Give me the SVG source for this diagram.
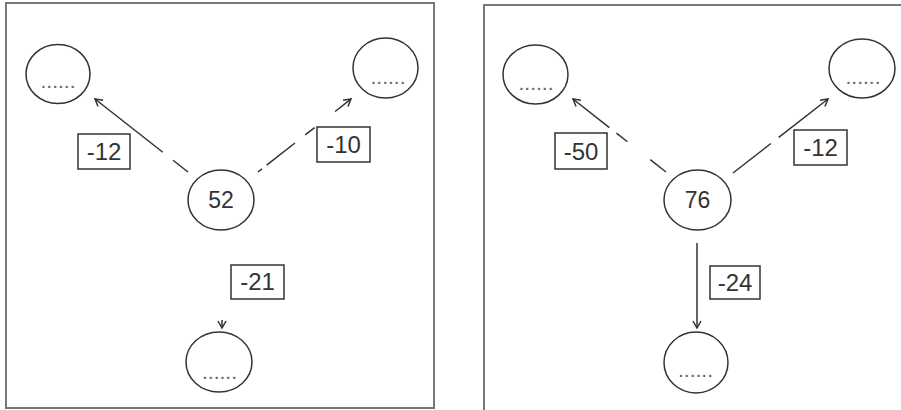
<svg xmlns="http://www.w3.org/2000/svg" width="901" height="410" viewBox="0 0 901 410">
<defs>
<marker id="arr" markerUnits="userSpaceOnUse" markerWidth="12" markerHeight="12" viewBox="-9 -6 12 12" refX="0" refY="0" orient="auto">
<path d="M-7,-4 L0,0 L-7,4" fill="none" stroke="#333" stroke-width="1.5"/>
</marker>
</defs>
<style>
.panel{fill:none;stroke:#777;stroke-width:2}
.node{fill:#fff;stroke:#333;stroke-width:1.5}
.lbl{fill:#fff;stroke:#333;stroke-width:1.5}
.t{font-family:"Liberation Sans",Arial,sans-serif;fill:#333;text-anchor:middle}
.big{font-size:24px}
.mid{font-size:23px}
.dots{font-size:21px;fill:#666}
.con{fill:none;stroke:#333;stroke-width:1.5;marker-end:url(#arr)}
</style>
<rect width="901" height="410" fill="#fff"/>
<rect class="panel" x="6" y="3" width="428" height="405"/>
<path class="panel" d="M484,410 V5 H901"/>

<g id="connectors">
<line class="con" x1="188" y1="172" x2="95" y2="99" stroke-dasharray="19 13 200"/>
<line class="con" x1="258" y1="172" x2="351" y2="99" stroke-dasharray="5 6 36 13 12 26 20"/>
<line class="con" x1="222" y1="320" x2="222" y2="328" stroke="none"/>
<line class="con" x1="666" y1="172" x2="573" y2="99" stroke-dasharray="20 29 14 9 200"/>
<line class="con" x1="733" y1="173" x2="828" y2="99" stroke-dasharray="48 10 200"/>
<line class="con" x1="697" y1="243" x2="697" y2="328"/>
</g>

<g id="L-topleft"><ellipse class="node" cx="58" cy="74" rx="32" ry="29.5"/><text class="t dots" x="58" y="88">......</text></g>
<g id="L-topright"><ellipse class="node" cx="385.5" cy="68" rx="32.5" ry="30"/><text class="t dots" x="388" y="84">......</text></g>
<g id="L-center"><ellipse class="node" cx="221" cy="200" rx="33" ry="30"/><text class="t mid" x="221" y="208">52</text></g>
<g id="L-bottom"><ellipse class="node" cx="219" cy="362" rx="33" ry="30"/><text class="t dots" x="219.5" y="379">......</text></g>

<g id="R-topleft"><ellipse class="node" cx="535.5" cy="74.5" rx="32.5" ry="29.5"/><text class="t dots" x="536" y="90">......</text></g>
<g id="R-topright"><ellipse class="node" cx="862" cy="68.5" rx="33" ry="29.5"/><text class="t dots" x="863" y="84">......</text></g>
<g id="R-center"><ellipse class="node" cx="697.5" cy="200" rx="33.5" ry="30"/><text class="t mid" x="697.5" y="208">76</text></g>
<g id="R-bottom"><ellipse class="node" cx="696" cy="362.5" rx="32" ry="30.5"/><text class="t dots" x="695.5" y="377">......</text></g>

<g id="lbl-L1"><rect class="lbl" x="78" y="134" width="52" height="35"/><text class="t big" x="104" y="160">-12</text></g>
<g id="lbl-L2"><rect class="lbl" x="317" y="127" width="53" height="35"/><text class="t big" x="343.5" y="153">-10</text></g>
<g id="lbl-L3"><rect class="lbl" x="231" y="265" width="53" height="34"/><text class="t big" x="257.5" y="290">-21</text></g>
<g id="lbl-R1"><rect class="lbl" x="555" y="133" width="52" height="36"/><text class="t big" x="581" y="160">-50</text></g>
<g id="lbl-R2"><rect class="lbl" x="794" y="130" width="53" height="35"/><text class="t big" x="820.5" y="156">-12</text></g>
<g id="lbl-R3"><rect class="lbl" x="710" y="266" width="50" height="33"/><text class="t big" x="735" y="291">-24</text></g>
</svg>
